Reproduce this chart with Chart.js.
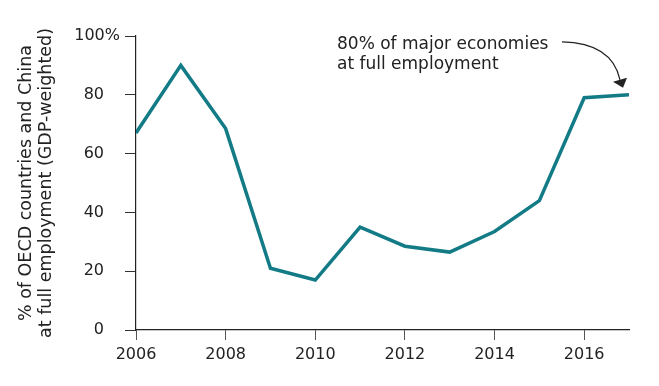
<!DOCTYPE html>
<html>
<head>
<meta charset="utf-8">
<script src="https://cdn.jsdelivr.net/npm/chart.js@4"></script>
<style>
  html, body { margin: 0; padding: 0; background: #fff; }
  #wrap { width: 659px; height: 386px; position: relative; }
</style>
</head>
<body>
<div id="wrap"><canvas id="c" width="659" height="386"></canvas></div>
<script>
const years = [2006, 2007, 2008, 2009, 2010, 2011, 2012, 2013, 2014, 2015, 2016, 2017];
const shareFullEmployment = [67, 90, 68.5, 21, 17, 35, 28.5, 26.5, 33.5, 44, 79, 80];
const yTicks = [0, 20, 40, 60, 80, 100];
const xTicks = [2006, 2008, 2010, 2012, 2014, 2016];
const yTitle = ['% of OECD countries and China', 'at full employment (GDP-weighted)'];
const annotationLines = ['80% of major economies', 'at full employment'];

const FONT = "'DejaVu Sans', sans-serif";
const TXT = '#222';

const annotationPlugin = {
  id: 'annot',
  afterDraw(chart) {
    const ctx = chart.ctx;
    const xs = chart.scales.x, ys = chart.scales.y;
    const px = xs.getPixelForValue(years[years.length - 1]);
    const py = ys.getPixelForValue(shareFullEmployment[shareFullEmployment.length - 1]);
    ctx.save();
    ctx.fillStyle = TXT;
    ctx.font = '17px ' + FONT;
    ctx.textBaseline = 'alphabetic';
    ctx.textAlign = 'left';
    const tx = px - 292, ty = py - 46;
    ctx.fillText(annotationLines[0], tx, ty);
    ctx.fillText(annotationLines[1], tx, ty + 20);
    // curved arrow
    ctx.strokeStyle = '#222';
    ctx.lineWidth = 1.2;
    ctx.beginPath();
    ctx.moveTo(px - 67, py - 53);
    ctx.quadraticCurveTo(px - 17, py - 52, px - 9, py - 15);
    ctx.stroke();
    // arrowhead
    ctx.beginPath();
    ctx.moveTo(px - 6, py - 7);
    ctx.lineTo(px - 16, py - 13);
    ctx.lineTo(px - 2, py - 17);
    ctx.closePath();
    ctx.fill();
    ctx.restore();
  }
};

new Chart(document.getElementById('c'), {
  type: 'line',
  data: {
    datasets: [{
      data: years.map((y, i) => ({ x: y, y: shareFullEmployment[i] })),
      borderColor: '#127b85',
      borderWidth: 3.5,
      pointRadius: 0,
      tension: 0,
      fill: false
    }]
  },
  options: {
    responsive: false,
    animation: false,
    devicePixelRatio: 1,
    layout: { padding: { top: 36, right: 30, left: 0, bottom: 0 } },
    plugins: { legend: { display: false }, tooltip: { enabled: false } },
    scales: {
      x: {
        type: 'linear',
        min: 2006, max: 2017,
        afterBuildTicks(scale) { scale.ticks = xTicks.map(v => ({ value: v })); },
        afterFit(scale) { scale.height = 56; },
        border: { display: true, color: '#222', width: 1.2 },
        grid: { drawOnChartArea: false, drawTicks: true, tickLength: 10, color: '#555', lineWidth: 1 },
        ticks: {
          color: TXT, padding: 5,
          font: { family: FONT, size: 16 },
          callback: v => String(v),
          maxRotation: 0
        }
      },
      y: {
        min: 0, max: 100,
        afterBuildTicks(scale) { scale.ticks = yTicks.map(v => ({ value: v })); },
        afterFit(scale) { scale.width = 136; },
        border: { display: true, color: '#222', width: 1.2 },
        grid: { drawOnChartArea: false, drawTicks: true, tickLength: 11, color: '#333', lineWidth: 1 },
        ticks: {
          color: TXT, padding: 5,
          font: { family: FONT, size: 16 },
          callback: v => v === 100 ? '100%' : String(v) + '\u2003'
        },
        title: {
          display: true,
          text: yTitle,
          color: TXT,
          font: { family: FONT, size: 17.5, lineHeight: 1.15 },
          padding: { top: 16, bottom: 0 }
        }
      }
    }
  },
  plugins: [annotationPlugin]
});
</script>
</body>
</html>
